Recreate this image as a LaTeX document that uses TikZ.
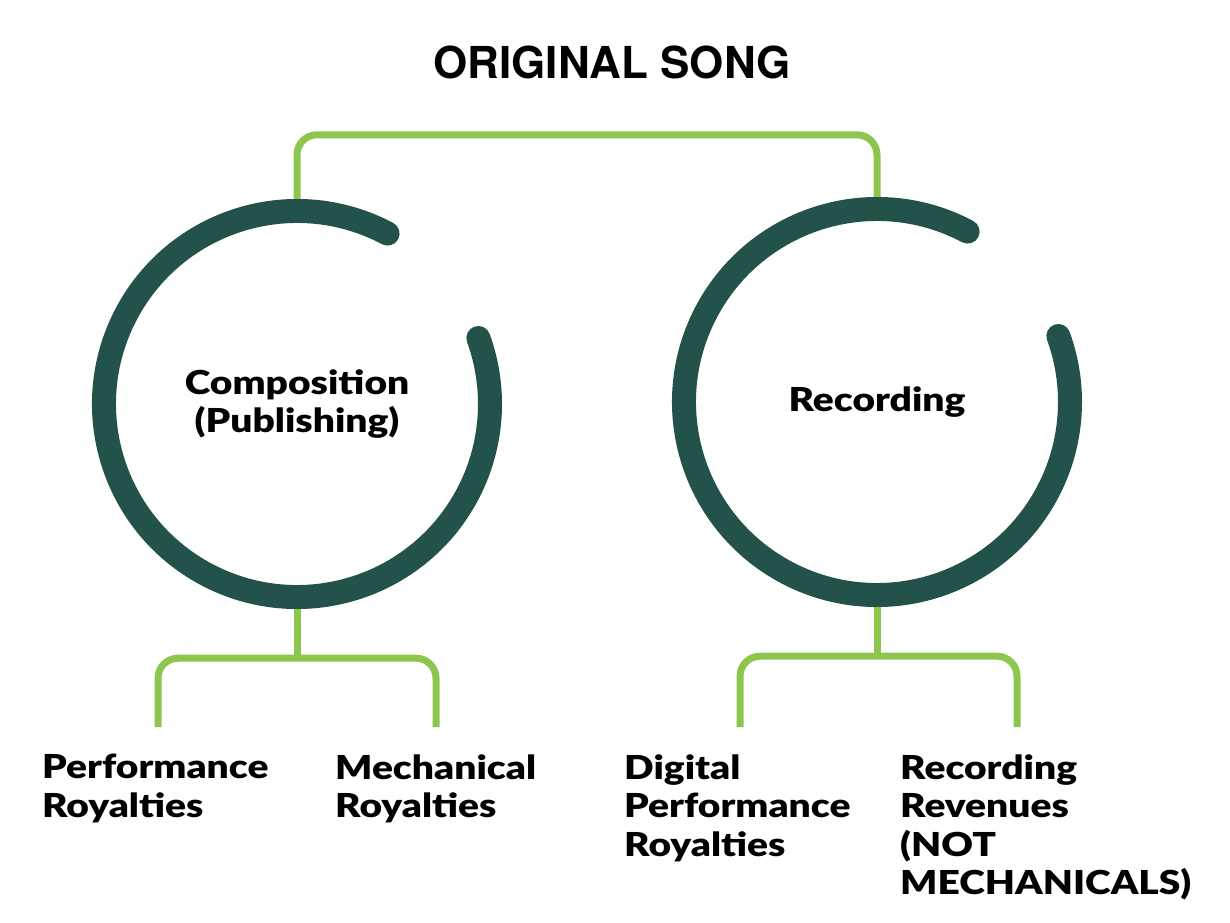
\documentclass[tikz,border=0pt]{standalone}
\usepackage{fontspec}
\setmainfont{Lato}[BoldFont={Lato Black},BoldFeatures={FakeStretch=1.18}]
\newfontfamily\titlefont{TeX Gyre Heros}
\definecolor{dkgreen}{HTML}{22524A}
\definecolor{ltgreen}{HTML}{8DC64C}
\begin{document}
\begin{tikzpicture}[x=1pt,y=1pt,
  ring/.style={draw=dkgreen,line width=24pt,line cap=round},
  link/.style={draw=ltgreen,line width=7pt,rounded corners=20pt},
  hub/.style={circle,minimum size=410pt,inner sep=0pt,align=center,
    font=\bfseries\fontsize{33}{38.5}\selectfont},
  lab/.style={anchor=north west,inner sep=0pt,align=left,
    font=\bfseries\fontsize{33}{38.5}\selectfont}]
\useasboundingbox (0,0) rectangle (1230,922);
\node (title) at (612,860) {\titlefont\bfseries\fontsize{44}{50}\selectfont ORIGINAL SONG};
\node[hub] (comp) at (297,518) {Composition\\(Publishing)};
\node[hub] (rec) at (877,520) {Recording};
\draw[ring] ([shift={(62:193)}]comp.center) arc[start angle=62,end angle=380,radius=193];
\draw[ring] ([shift={(62:193)}]rec.center) arc[start angle=62,end angle=380,radius=193];
\draw[link] (comp.north) -- ++(0,64) -| (rec.north);
% bottom brackets
\coordinate (p1) at (158,195);
\coordinate (p2) at (436,195);
\coordinate (p3) at (740,195);
\coordinate (p4) at (1017,195);
\draw[link] (comp.south) -- ++(0,-49) coordinate (m1);
\draw[link] (p1) |- (m1) -| (p2);
\draw[link] (rec.south) -- ++(0,-49) coordinate (m2);
\draw[link] (p3) |- (m2) -| (p4);
\node[lab] (perf) at (42,168) {Performance\\Royalties};
\node[lab] (mech) at (335,168) {Mechanical\\Royalties};
\node[lab] (dig) at (624,168) {Digital\\Performance\\Royalties};
\node[lab] (revs) at (900,168) {Recording\\Revenues\\(NOT\\MECHANICALS)};
\end{tikzpicture}
\end{document}
